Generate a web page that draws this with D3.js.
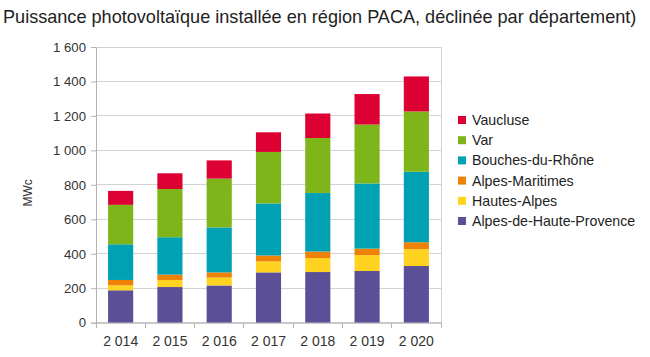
<!DOCTYPE html>
<html><head><meta charset="utf-8">
<script src="https://cdn.jsdelivr.net/npm/d3@7"></script>
<style>body{margin:0;background:#fff}svg{display:block}text{font-family:"Liberation Sans",Arial,sans-serif}</style>
</head><body><svg id="c" width="650" height="357"></svg>
<script>
const years = ["2 014","2 015","2 016","2 017","2 018","2 019","2 020"];
const seriesNames = ["Alpes-de-Haute-Provence","Hautes-Alpes","Alpes-Maritimes","Bouches-du-Rhône","Var","Vaucluse"];
const ahp = [188,207,216,292,294,300,329];
const ha = [29,41,46,64,81,92,98];
const am = [31,31,30,34,38,38,40];
const bdr = [207,217,261,302,340,378,409];
const varD = [229,280,283,299,319,342,350];
const vaucluse = [81,91,106,114,142,177,203];
const colors = ["#5b4f97","#ffd320","#ee8208","#00a1b2","#7db51a","#dd0033"];
const yTicks = [0,200,400,600,800,1000,1200,1400,1600];
const title = "Puissance photovoltaïque installée en région PACA, déclinée par département)";
const yTitle = "MWc";

const svg = d3.select("#c");
const L=96,R=441,T=47,B=322.7;
const x = d3.scaleBand().domain(years).range([L,R]).paddingInner(0.49).paddingOuter(0.245);
const y = d3.scaleLinear().domain([0,1600]).range([B,T]);
const fmt = v => d3.format(",")(v).replace(/,/g," ");

svg.append("text").attr("x",3).attr("y",23).attr("font-size",18.1).attr("fill","#222").text(title);

// grid
svg.append("g").selectAll("line").data(yTicks).join("line")
  .attr("x1",L).attr("x2",R).attr("y1",d=>y(d)).attr("y2",d=>y(d))
  .attr("stroke","#d3d3d3").attr("stroke-width",1).attr("shape-rendering","crispEdges");
svg.append("line").attr("x1",R).attr("x2",R).attr("y1",T).attr("y2",B).attr("stroke","#d3d3d3").attr("shape-rendering","crispEdges");

// stacked data
const rows = years.map((yr,i)=>({year:yr,s0:ahp[i],s1:ha[i],s2:am[i],s3:bdr[i],s4:varD[i],s5:vaucluse[i]}));
const stack = d3.stack().keys(["s0","s1","s2","s3","s4","s5"])(rows);
svg.append("g").selectAll("g").data(stack).join("g").attr("fill",(d,i)=>colors[i])
  .selectAll("rect").data(d=>d).join("rect")
  .attr("x",d=>x(d.data.year)).attr("width",x.bandwidth())
  .attr("y",d=>y(d[1])).attr("height",d=>y(d[0])-y(d[1]));

// y axis
const ya = svg.append("g").attr("transform",`translate(${L},0)`)
  .call(d3.axisLeft(y).tickValues(yTicks).tickFormat(fmt).tickSize(5).tickPadding(5));
ya.select(".domain").attr("stroke","#b3b3b3");
ya.selectAll(".tick line").attr("stroke","#b3b3b3");
ya.selectAll("text").attr("font-size",13.2).attr("fill","#333").style("font-family","Liberation Sans, Arial, sans-serif");

// x axis
const xa = svg.append("g").attr("transform",`translate(0,${B})`)
  .call(d3.axisBottom(x).tickSize(0).tickPadding(13));
xa.select(".domain").attr("stroke","#b3b3b3");
xa.selectAll("text").attr("font-size",14).attr("fill","#333").style("font-family","Liberation Sans, Arial, sans-serif");
const step = x.step();
svg.append("g").selectAll("line").data(d3.range(years.length+1)).join("line")
  .attr("x1",i=>L+i*step).attr("x2",i=>L+i*step).attr("y1",B).attr("y2",B+5)
  .attr("stroke","#b3b3b3").attr("shape-rendering","crispEdges");

svg.append("text").attr("transform",`translate(32,${(T+B)/2+8}) rotate(-90)`).attr("text-anchor","middle")
  .attr("font-size",12).attr("fill","#333").text(yTitle);

// legend
const order = [5,4,3,2,1,0];
const lg = svg.append("g").selectAll("g").data(order).join("g")
  .attr("transform",(d,i)=>`translate(458,${120+i*20.2})`);
lg.append("rect").attr("x",0).attr("y",-4).attr("width",8).attr("height",8).attr("fill",d=>colors[d]);
lg.append("text").attr("x",14).attr("y",5).attr("font-size",14.2).attr("fill","#222").text(d=>seriesNames[d]);
</script></body></html>
